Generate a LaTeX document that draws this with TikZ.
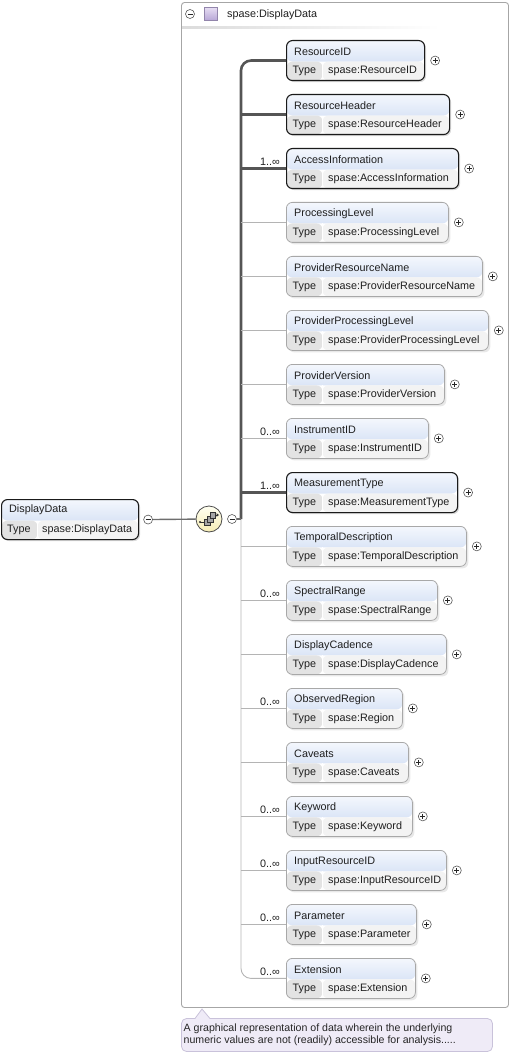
\documentclass[tikz,border=0pt]{standalone}
\usepackage{fontspec}
\setmainfont{Liberation Sans}
\usetikzlibrary{shadows,calc}
\pgfdeclarelayer{bg}
\pgfsetlayers{bg,main}
\definecolor{hdrtop}{HTML}{F4F7FD}
\definecolor{hdrbot}{HTML}{C4D5F0}
\definecolor{typecell}{HTML}{E3E3E3}
\definecolor{valcell}{HTML}{F3F3F3}
\definecolor{reqborder}{HTML}{1A1A1A}
\definecolor{optborder}{HTML}{A8A8A8}
\definecolor{thickline}{HTML}{555555}
\definecolor{thinline}{HTML}{B4B4B4}
\definecolor{framegray}{HTML}{A6A6A6}
\definecolor{notefill}{HTML}{EFEBF7}
\definecolor{noteborder}{HTML}{C9C2DA}
\definecolor{seqtop}{HTML}{FFFFF2}
\definecolor{seqbot}{HTML}{F6EDB4}
\definecolor{sqtop}{HTML}{E6DDF3}
\definecolor{sqbot}{HTML}{B7A6D6}
\tikzset{
  lbl/.style={font=\fontsize{10.8}{13}\selectfont, text=black!88, inner sep=0pt},
  ebox/.style={rectangle, rounded corners=6pt, minimum height=40pt, inner sep=0pt, fill=white,
    path picture={
      \fill[top color=hdrtop, bottom color=hdrbot] (path picture bounding box.north west) rectangle ([yshift=-21pt]path picture bounding box.north east);
      \fill[typecell] ([yshift=-21pt]path picture bounding box.north west) rectangle ([xshift=36pt]path picture bounding box.south west);
      \fill[valcell] ([xshift=36pt,yshift=-21pt]path picture bounding box.north west) rectangle (path picture bounding box.south east);
      \draw[white, line width=0.8pt] ([xshift=36pt,yshift=-21pt]path picture bounding box.north west) -- ([xshift=36pt]path picture bounding box.south west);
    }},
  reqbox/.style={ebox, draw=reqborder, line width=1.1pt, drop shadow={shadow xshift=1.5pt, shadow yshift=-1.5pt, opacity=0.3}},
  optbox/.style={ebox, draw=optborder, line width=0.8pt, drop shadow={shadow xshift=2pt, shadow yshift=-2pt, opacity=0.18}},
  circ/.style={circle, draw=black!65, line width=0.6pt, fill=white, minimum size=9pt, inner sep=0pt},
  plusc/.style={circ, path picture={\draw[black!85, line width=0.7pt] ([xshift=-2.5pt]path picture bounding box.center) -- ([xshift=2.5pt]path picture bounding box.center) ([yshift=-2.5pt]path picture bounding box.center) -- ([yshift=2.5pt]path picture bounding box.center);}},
  minusc/.style={circ, path picture={\draw[black!85, line width=0.7pt] ([xshift=-2.5pt]path picture bounding box.center) -- ([xshift=2.5pt]path picture bounding box.center);}},
  thickc/.style={draw=thickline, line width=2.6pt},
  thinc/.style={draw=thinline, line width=0.9pt},
  midc/.style={draw=thickline!85, line width=1.4pt},
  notetext/.style={font=\fontsize{10.6}{12.5}\selectfont, text=black!85, inner sep=0pt, align=left},
}
\newcommand\xsdelem[7]{%
  \node[#6, minimum width=#3pt, anchor=north west] (#1) at (286,#2) {};
  \node[lbl, anchor=west] at ([xshift=8pt,yshift=-11.5pt]#1.north west) {#4};
  \node[lbl, anchor=west] at ([xshift=6.5pt,yshift=10pt]#1.south west) {Type};
  \node[lbl, anchor=west] at ([xshift=42pt,yshift=10pt]#1.south west) {#5};
  \node[plusc] (#1-x) at ([xshift=10pt]#1.east) {};
  \node[lbl, anchor=south east] at ([xshift=-6pt,yshift=2.5pt]#1.west) {#7};
}
\begin{document}
\begin{tikzpicture}[x=1pt,y=-1pt]
\useasboundingbox (0,0) rectangle (512,1056);
% outer frame
\begin{pgfonlayer}{bg}
\draw[framegray, line width=0.9pt, rounded corners=3pt] (181.5,2.5) rectangle (508.5,1007.5);
\shade[left color=black!14, right color=white] (182,27) rectangle (440,29);
\end{pgfonlayer}
\node[minusc] (topm) at (190,14) {};
\node[rectangle, draw=sqbot!80!black, line width=0.6pt, top color=sqtop, bottom color=sqbot, minimum size=13pt, inner sep=0pt] (sq) at (210.5,14) {};
\node[lbl, anchor=west] (title) at (227,14.5) {spase:DisplayData};
% elements
\xsdelem{rid}{40}{138}{ResourceID}{spase:ResourceID}{reqbox}{}
\xsdelem{rh}{94}{163}{ResourceHeader}{spase:ResourceHeader}{reqbox}{}
\xsdelem{ai}{148}{172}{AccessInformation}{spase:AccessInformation}{reqbox}{1..∞}
\xsdelem{pl}{202}{162}{ProcessingLevel}{spase:ProcessingLevel}{optbox}{}
\xsdelem{prn}{256}{196}{ProviderResourceName}{spase:ProviderResourceName}{optbox}{}
\xsdelem{ppl}{310}{202}{ProviderProcessingLevel}{spase:ProviderProcessingLevel}{optbox}{}
\xsdelem{pv}{364}{158}{ProviderVersion}{spase:ProviderVersion}{optbox}{}
\xsdelem{iid}{418}{142}{InstrumentID}{spase:InstrumentID}{optbox}{0..∞}
\xsdelem{mt}{472}{171}{MeasurementType}{spase:MeasurementType}{reqbox}{1..∞}
\xsdelem{td}{526}{180}{TemporalDescription}{spase:TemporalDescription}{optbox}{}
\xsdelem{sr}{580}{151}{SpectralRange}{spase:SpectralRange}{optbox}{0..∞}
\xsdelem{dc}{634}{160}{DisplayCadence}{spase:DisplayCadence}{optbox}{}
\xsdelem{orr}{688}{116}{ObservedRegion}{spase:Region}{optbox}{0..∞}
\xsdelem{cav}{742}{122}{Caveats}{spase:Caveats}{optbox}{}
\xsdelem{kw}{796}{126}{Keyword}{spase:Keyword}{optbox}{0..∞}
\xsdelem{iri}{850}{160}{InputResourceID}{spase:InputResourceID}{optbox}{0..∞}
\xsdelem{par}{904}{130}{Parameter}{spase:Parameter}{optbox}{0..∞}
\xsdelem{ext}{958}{129}{Extension}{spase:Extension}{optbox}{0..∞}
% left element
\node[reqbox, minimum width=137pt, anchor=north west] (dd) at (1,499) {};
\node[lbl, anchor=west] at ([xshift=8pt,yshift=-11pt]dd.north west) {DisplayData};
\node[lbl, anchor=west] at ([xshift=6pt,yshift=10pt]dd.south west) {Type};
\node[lbl, anchor=west] at ([xshift=41pt,yshift=10pt]dd.south west) {spase:DisplayData};
\node[minusc] (ddm) at ([xshift=9pt]dd.east) {};
% sequence compositor
\node[circle, draw=black!70, line width=0.8pt, top color=seqtop, bottom color=seqbot, minimum size=26pt, inner sep=0pt] (seq) at (209,519) {};
\begin{scope}[shift={(seq.center)}]
  \draw[black!80, line width=0.7pt] (-9,3) -- (-4,3) (4,-4) -- (8,-4);
  \fill[black!80] (-9,3) circle (1.2);
  \fill[black!80] (10,-4) -- (7.5,-5.8) -- (7.5,-2.2) -- cycle;
  \filldraw[fill=black!35, draw=black!80, line width=0.5pt] (-5,0) rectangle (1,6);
  \filldraw[fill=black!35, draw=black!80, line width=0.5pt] (-2,-3) rectangle (4,3);
  \filldraw[fill=black!35, draw=black!80, line width=0.5pt] (1,-7) rectangle (6,-1);
\end{scope}
\node[minusc] (seqm) at (232,519) {};
\coordinate (J) at (241,519);
% connectors
\begin{pgfonlayer}{bg}
\draw[midc] (ddm) -- (seq);
\draw[thickc, rounded corners=10pt] (rid.west) -| (J);
\draw[thinc, rounded corners=10pt] (J) |- (ext.west);
\draw[midc] (seqm) -- (J);
\foreach \n in {rh,ai,mt} { \draw[thickc] (J |- \n.west) -- (\n.west); }
\foreach \n in {pl,prn,ppl,pv,iid,td,sr,dc,orr,cav,kw,iri,par} { \draw[thinc] (J |- \n.west) -- (\n.west); }
\end{pgfonlayer}
% annotation
\draw[noteborder, fill=notefill, line width=0.8pt] (195,1018.5) -- (202,1009) -- (210,1018.5) [rounded corners=5pt] -- (492.5,1018.5) -- (492.5,1051.5) -- (181.5,1051.5) -- (181.5,1018.5) -- (195,1018.5);
\node[notetext, anchor=north west] (note) at (183.5,1023.5) {A graphical representation of data wherein the underlying\\numeric values are not (readily) accessible for analysis.....};
\end{tikzpicture}
\end{document}
